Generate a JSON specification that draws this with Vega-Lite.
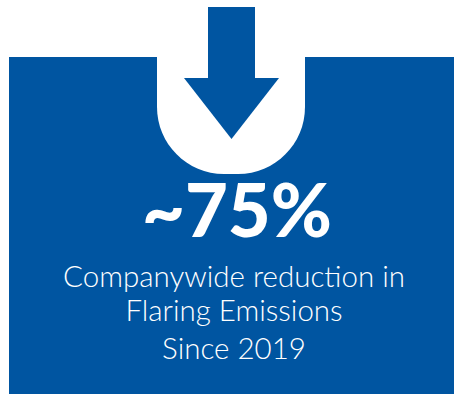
{
  "$schema": "https://vega.github.io/schema/vega-lite/v6.json",
  "width": 454,
  "height": 394,
  "padding": 0,
  "autosize": "none",
  "background": "white",
  "config": {"view": {"stroke": null}},
  "datasets": {
    "boxes": [
      {"part": "panel", "x": 9, "x2": 454, "y": 57, "y2": 394},
      {"part": "shaft", "x": 208, "x2": 255, "y": 7, "y2": 80}
    ],
    "cutout": [{"x": 157, "x2": 305, "y": 40, "y2": 174}],
    "head": [
      {"x": 184, "y": 78, "y2": 78},
      {"x": 231.5, "y": 139, "y2": 78},
      {"x": 279, "y": 78, "y2": 78}
    ],
    "labels": [
      {"text": "~75%", "x": 237, "y": 237, "kind": "big"},
      {"text": "Companywide reduction in", "x": 234, "y": 287, "kind": "small"},
      {"text": "Flaring Emissions", "x": 234, "y": 321, "kind": "small"},
      {"text": "Since 2019", "x": 234, "y": 359, "kind": "small"}
    ]
  },
  "layer": [
    {
      "data": {"name": "boxes"},
      "transform": [{"filter": "datum.part == 'panel'"}],
      "mark": {"type": "rect", "color": "#0055A1"},
      "encoding": {
        "x": {"field": "x", "type": "quantitative", "scale": {"domain": [0, 454], "nice": false, "zero": false}, "axis": null},
        "x2": {"field": "x2"},
        "y": {"field": "y", "type": "quantitative", "scale": {"domain": [0, 394], "nice": false, "zero": false, "reverse": true}, "axis": null},
        "y2": {"field": "y2"}
      }
    },
    {
      "data": {"name": "cutout"},
      "mark": {"type": "rect", "color": "white", "cornerRadiusBottomLeft": 74, "cornerRadiusBottomRight": 74},
      "encoding": {
        "x": {"field": "x", "type": "quantitative"},
        "x2": {"field": "x2"},
        "y": {"field": "y", "type": "quantitative"},
        "y2": {"field": "y2"}
      }
    },
    {
      "data": {"name": "boxes"},
      "transform": [{"filter": "datum.part == 'shaft'"}],
      "mark": {"type": "rect", "color": "#0055A1"},
      "encoding": {
        "x": {"field": "x", "type": "quantitative"},
        "x2": {"field": "x2"},
        "y": {"field": "y", "type": "quantitative"},
        "y2": {"field": "y2"}
      }
    },
    {
      "data": {"name": "head"},
      "mark": {"type": "area", "color": "#0055A1", "interpolate": "linear", "opacity": 1},
      "encoding": {
        "x": {"field": "x", "type": "quantitative"},
        "y": {"field": "y", "type": "quantitative"},
        "y2": {"field": "y2"}
      }
    },
    {
      "data": {"name": "labels"},
      "transform": [{"filter": "datum.kind == 'big'"}],
      "mark": {"type": "text", "color": "white", "font": "Lato", "fontWeight": 900, "fontSize": 74, "align": "center", "baseline": "alphabetic"},
      "encoding": {
        "x": {"field": "x", "type": "quantitative"},
        "y": {"field": "y", "type": "quantitative"},
        "text": {"field": "text"}
      }
    },
    {
      "data": {"name": "labels"},
      "transform": [{"filter": "datum.kind == 'small'"}],
      "mark": {"type": "text", "color": "white", "font": "Lato", "fontWeight": 300, "fontSize": 29.5, "align": "center", "baseline": "alphabetic"},
      "encoding": {
        "x": {"field": "x", "type": "quantitative"},
        "y": {"field": "y", "type": "quantitative"},
        "text": {"field": "text"}
      }
    }
  ]
}
